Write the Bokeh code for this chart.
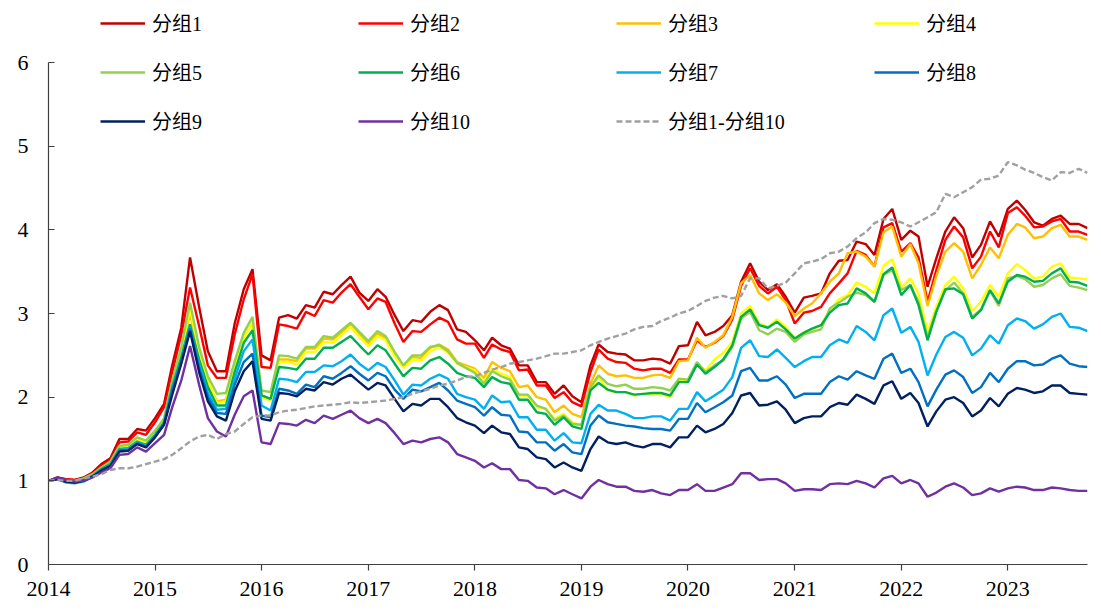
import pandas as pd
from bokeh.plotting import figure
from bokeh.models import Range1d, FixedTicker, DatetimeTickFormatter, Legend, LegendItem, ColumnDataSource
from bokeh.embed import file_html
from bokeh.resources import INLINE

months = pd.date_range("2014-01-01", periods=118, freq="MS")
year_ticks = [2014, 2015, 2016, 2017, 2018, 2019, 2020, 2021, 2022, 2023]
y_ticks = [0, 1, 2, 3, 4, 5, 6]

g1 = [1.0, 1.04, 1.02, 1.01, 1.04, 1.1, 1.2, 1.27, 1.5, 1.5, 1.62, 1.6, 1.75, 1.92, 2.38, 2.83, 3.67, 3.08, 2.55, 2.31, 2.31, 2.88, 3.29, 3.53,
      2.5, 2.44, 2.95, 2.98, 2.94, 3.1, 3.07, 3.26, 3.23, 3.34, 3.44, 3.25, 3.15, 3.29, 3.2, 2.98, 2.79, 2.92, 2.9, 3.02, 3.1, 3.04, 2.81, 2.78,
      2.68, 2.56, 2.71, 2.62, 2.58, 2.38, 2.38, 2.18, 2.18, 2.04, 2.14, 2.01, 1.94, 2.38, 2.63, 2.54, 2.52, 2.51, 2.44, 2.44, 2.46, 2.45, 2.4,
      2.61, 2.62, 2.9, 2.74, 2.78, 2.85, 2.98, 3.38, 3.6, 3.38, 3.28, 3.35, 3.2, 3.01, 3.19, 3.21, 3.24, 3.48, 3.63, 3.64, 3.86, 3.83, 3.7, 4.13, 4.25,
      3.88, 3.99, 3.92, 3.32, 3.66, 3.98, 4.15, 4.02, 3.67, 3.82, 4.1, 3.92, 4.25, 4.35, 4.24, 4.09, 4.05, 4.13, 4.17, 4.07, 4.07, 4.02]
g2 = [1.0, 1.03, 1.02, 1.01, 1.03, 1.09, 1.18, 1.25, 1.46, 1.47, 1.58, 1.55, 1.7, 1.88, 2.3, 2.75, 3.31, 2.85, 2.38, 2.23, 2.23, 2.75, 3.17, 3.47,
      2.36, 2.35, 2.87, 2.85, 2.82, 3.02, 2.97, 3.16, 3.13, 3.25, 3.35, 3.2, 3.05, 3.18, 3.14, 2.88, 2.66, 2.79, 2.78, 2.87, 2.95, 2.9, 2.69, 2.64,
      2.64, 2.47, 2.63, 2.57, 2.54, 2.32, 2.33, 2.14, 2.14, 1.99, 2.06, 1.94, 1.89, 2.3, 2.57, 2.46, 2.42, 2.41, 2.34, 2.32, 2.34, 2.34, 2.29,
      2.45, 2.45, 2.68, 2.6, 2.65, 2.73, 2.93, 3.33, 3.54, 3.33, 3.24, 3.32, 3.16, 2.88, 3.01, 3.03, 3.08, 3.24, 3.36, 3.48, 3.75, 3.7, 3.56, 4.03, 4.08,
      3.74, 3.84, 3.67, 3.14, 3.52, 3.88, 4.04, 3.91, 3.54, 3.68, 3.98, 3.79, 4.2, 4.27, 4.17, 4.03, 4.04, 4.1, 4.13, 3.98, 3.98, 3.94]
g3 = [1.0, 1.03, 1.0, 0.99, 1.02, 1.07, 1.15, 1.21, 1.4, 1.41, 1.49, 1.46, 1.58, 1.72, 2.15, 2.52, 3.0, 2.52, 2.18, 1.95, 1.97, 2.38, 2.72, 2.89,
      2.02, 1.98, 2.45, 2.45, 2.43, 2.58, 2.58, 2.7, 2.69, 2.77, 2.87, 2.75, 2.64, 2.76, 2.71, 2.52, 2.37, 2.48, 2.47, 2.59, 2.63, 2.57, 2.42, 2.38,
      2.34, 2.23, 2.42, 2.35, 2.31, 2.12, 2.14, 2.0, 1.97, 1.82, 1.9, 1.8, 1.76, 2.16, 2.38, 2.28, 2.25, 2.26, 2.23, 2.23, 2.26, 2.27, 2.23,
      2.43, 2.44, 2.71, 2.59, 2.66, 2.74, 2.96, 3.36, 3.46, 3.24, 3.16, 3.23, 3.13, 2.97, 3.06, 3.12, 3.24, 3.38, 3.48, 3.72, 3.74, 3.68, 3.56, 3.97, 4.04,
      3.68, 3.83, 3.6, 3.09, 3.45, 3.74, 3.84, 3.74, 3.42, 3.58, 3.79, 3.66, 3.94, 4.07, 4.03, 3.9, 3.92, 4.02, 4.06, 3.92, 3.92, 3.88]
g4 = [1.0, 1.03, 1.0, 0.99, 1.02, 1.07, 1.15, 1.21, 1.4, 1.41, 1.49, 1.46, 1.58, 1.72, 2.17, 2.55, 3.05, 2.55, 2.2, 1.93, 1.95, 2.35, 2.7, 2.9,
      2.0, 1.96, 2.42, 2.42, 2.39, 2.54, 2.54, 2.66, 2.65, 2.74, 2.84, 2.72, 2.61, 2.73, 2.68, 2.49, 2.35, 2.45, 2.44, 2.55, 2.6, 2.53, 2.4, 2.36,
      2.32, 2.18, 2.34, 2.28, 2.24, 2.02, 2.02, 1.88, 1.86, 1.74, 1.8, 1.7, 1.66, 2.08, 2.24, 2.08, 2.06, 2.06, 2.02, 2.04, 2.03, 2.04, 2.0,
      2.2, 2.2, 2.4, 2.32, 2.45, 2.53, 2.66, 3.0, 3.09, 2.88, 2.84, 2.93, 2.84, 2.7, 2.78, 2.81, 2.86, 3.04, 3.17, 3.22, 3.37, 3.32, 3.24, 3.57, 3.65,
      3.31, 3.42, 3.24, 2.78, 3.08, 3.34, 3.44, 3.3, 3.03, 3.14, 3.34, 3.2, 3.48, 3.59, 3.52, 3.42, 3.44, 3.56, 3.6, 3.43, 3.42, 3.41]
g5 = [1.0, 1.03, 1.0, 1.0, 1.03, 1.08, 1.16, 1.23, 1.42, 1.43, 1.52, 1.48, 1.6, 1.75, 2.2, 2.6, 3.13, 2.6, 2.25, 2.04, 2.05, 2.43, 2.77, 2.96,
      2.08, 2.06, 2.5, 2.49, 2.46, 2.6, 2.6, 2.73, 2.71, 2.8, 2.89, 2.78, 2.67, 2.79, 2.73, 2.54, 2.38, 2.5, 2.5, 2.6, 2.62, 2.55, 2.41, 2.35,
      2.29, 2.16, 2.31, 2.25, 2.21, 2.03, 2.03, 1.9, 1.86, 1.72, 1.78, 1.68, 1.67, 2.12, 2.26, 2.16, 2.13, 2.15, 2.1, 2.1, 2.12, 2.11, 2.08,
      2.22, 2.21, 2.42, 2.3, 2.38, 2.44, 2.6, 2.94, 3.02, 2.8, 2.75, 2.82, 2.78, 2.66, 2.75, 2.78, 2.81, 3.06, 3.13, 3.2, 3.25, 3.22, 3.14, 3.46, 3.52,
      3.28, 3.34, 3.14, 2.72, 3.03, 3.28, 3.37, 3.24, 2.96, 3.05, 3.27, 3.09, 3.42, 3.45, 3.41, 3.32, 3.34, 3.42, 3.47, 3.33, 3.31, 3.28]
g6 = [1.0, 1.03, 0.99, 0.98, 1.01, 1.06, 1.14, 1.2, 1.38, 1.39, 1.47, 1.43, 1.55, 1.7, 2.12, 2.48, 2.87, 2.45, 2.12, 1.9, 1.9, 2.3, 2.65, 2.8,
      2.02, 1.98, 2.36, 2.35, 2.33, 2.46, 2.46, 2.59, 2.59, 2.66, 2.73, 2.62, 2.51, 2.62, 2.56, 2.4, 2.25, 2.35, 2.34, 2.44, 2.48, 2.4, 2.29, 2.25,
      2.23, 2.12, 2.24, 2.18, 2.16, 1.97, 1.97, 1.82, 1.8, 1.67, 1.76, 1.65, 1.62, 2.08, 2.17, 2.09, 2.06, 2.06, 2.03, 2.04, 2.05, 2.05, 2.02,
      2.18, 2.18, 2.39, 2.28, 2.36, 2.45, 2.62, 2.96, 3.05, 2.86, 2.83, 2.9, 2.81, 2.7, 2.77, 2.82, 2.86, 3.01, 3.1, 3.12, 3.3, 3.24, 3.14, 3.47, 3.55,
      3.22, 3.34, 3.1, 2.68, 3.02, 3.29, 3.3, 3.23, 2.94, 3.04, 3.28, 3.12, 3.38, 3.46, 3.44, 3.38, 3.39, 3.48, 3.54, 3.38, 3.37, 3.33]
g7 = [1.0, 1.02, 0.98, 0.97, 0.99, 1.05, 1.13, 1.19, 1.37, 1.38, 1.46, 1.42, 1.54, 1.69, 2.1, 2.45, 2.84, 2.4, 2.05, 1.85, 1.86, 2.22, 2.55, 2.69,
      1.9, 1.84, 2.22, 2.21, 2.18, 2.3, 2.3, 2.38, 2.37, 2.43, 2.51, 2.4, 2.32, 2.41, 2.36, 2.2, 2.03, 2.15, 2.14, 2.22, 2.27, 2.22, 2.04, 2.0,
      1.97, 1.86, 2.02, 1.94, 1.95, 1.76, 1.76, 1.61, 1.61, 1.48, 1.57, 1.46, 1.45, 1.8, 1.91, 1.84, 1.84, 1.8, 1.75, 1.75, 1.77, 1.77, 1.72,
      1.86, 1.86, 2.06, 1.95, 2.02, 2.09, 2.24, 2.59, 2.68, 2.49, 2.48, 2.57, 2.47, 2.36, 2.43, 2.48, 2.48, 2.62, 2.69, 2.65, 2.85, 2.78, 2.68, 2.98, 3.06,
      2.77, 2.84, 2.66, 2.26, 2.51, 2.72, 2.78, 2.71, 2.5, 2.58, 2.74, 2.64, 2.86, 2.94, 2.91, 2.82, 2.87, 2.96, 3.0, 2.84, 2.83, 2.79]
g8 = [1.0, 1.02, 0.99, 0.98, 1.0, 1.05, 1.13, 1.18, 1.36, 1.37, 1.45, 1.41, 1.53, 1.68, 2.08, 2.43, 2.82, 2.35, 2.0, 1.81, 1.8, 2.15, 2.42, 2.52,
      1.78, 1.76, 2.1, 2.08, 2.04, 2.15, 2.12, 2.25, 2.22, 2.29, 2.37, 2.28, 2.2, 2.29, 2.25, 2.09, 1.98, 2.09, 2.07, 2.12, 2.17, 2.08, 1.96, 1.92,
      1.88, 1.78, 1.88, 1.79, 1.78, 1.59, 1.58, 1.46, 1.46, 1.36, 1.44, 1.34, 1.32, 1.66, 1.78, 1.7, 1.68, 1.66, 1.65, 1.63, 1.62, 1.62, 1.6,
      1.74, 1.74, 1.93, 1.82, 1.88, 1.94, 2.02, 2.31, 2.35, 2.2, 2.2, 2.25, 2.15, 1.99, 2.04, 2.04, 2.04, 2.18, 2.25, 2.21, 2.31, 2.26, 2.22, 2.46, 2.52,
      2.29, 2.34, 2.18, 1.89, 2.09, 2.27, 2.32, 2.24, 2.05, 2.12, 2.29, 2.18, 2.34, 2.43, 2.43, 2.38, 2.39, 2.46, 2.5, 2.4, 2.37, 2.36]
g9 = [1.0, 1.02, 0.99, 0.98, 1.0, 1.05, 1.12, 1.18, 1.35, 1.36, 1.44, 1.4, 1.52, 1.67, 2.03, 2.4, 2.79, 2.3, 1.95, 1.77, 1.72, 2.07, 2.31, 2.43,
      1.74, 1.72, 2.05, 2.04, 2.01, 2.1, 2.08, 2.18, 2.15, 2.22, 2.27, 2.18, 2.09, 2.17, 2.14, 1.98, 1.83, 1.92, 1.9, 1.98, 1.98, 1.88, 1.75, 1.7,
      1.66, 1.57, 1.66, 1.58, 1.56, 1.4, 1.38, 1.28, 1.26, 1.16, 1.22, 1.16, 1.12, 1.38, 1.53, 1.46, 1.44, 1.46, 1.42, 1.4, 1.44, 1.44, 1.4,
      1.52, 1.52, 1.66, 1.58, 1.62, 1.68, 1.81, 2.02, 2.05, 1.9, 1.91, 1.95, 1.85, 1.69, 1.75, 1.77, 1.77, 1.88, 1.93, 1.91, 2.03, 1.98, 1.92, 2.14, 2.19,
      1.98, 2.05, 1.93, 1.65, 1.83, 1.97, 2.0, 1.93, 1.77, 1.84, 1.99, 1.89, 2.04, 2.11, 2.09, 2.05, 2.07, 2.14, 2.14, 2.05, 2.04, 2.03]
g10 = [1.0, 1.04, 1.01, 0.99, 1.0, 1.04, 1.1, 1.15, 1.31, 1.32, 1.4, 1.35, 1.45, 1.55, 1.88, 2.2, 2.61, 2.15, 1.75, 1.59, 1.53, 1.79, 2.01, 2.08,
       1.46, 1.44, 1.69, 1.68, 1.66, 1.73, 1.69, 1.78, 1.74, 1.79, 1.84, 1.75, 1.69, 1.74, 1.69, 1.57, 1.44, 1.48, 1.46, 1.5, 1.52, 1.46, 1.32, 1.28,
       1.24, 1.16, 1.21, 1.14, 1.14, 1.01, 1.0, 0.92, 0.91, 0.84, 0.89, 0.84, 0.79, 0.93, 1.01, 0.96, 0.93, 0.93, 0.88, 0.87, 0.89, 0.85, 0.83,
       0.89, 0.89, 0.96, 0.88, 0.88, 0.92, 0.96, 1.09, 1.09, 1.01, 1.02, 1.02, 0.97, 0.88, 0.9, 0.9, 0.89, 0.96, 0.97, 0.96, 1.0, 0.97, 0.92, 1.03, 1.06,
       0.97, 1.01, 0.97, 0.81, 0.86, 0.93, 0.97, 0.92, 0.83, 0.85, 0.91, 0.87, 0.91, 0.93, 0.92, 0.89, 0.89, 0.92, 0.91, 0.89, 0.88, 0.88]
g1_minus_10 = [1.0, 1.01, 1.0, 1.0, 1.03, 1.05, 1.08, 1.13, 1.15, 1.15, 1.17, 1.2, 1.23, 1.26, 1.31, 1.39, 1.47, 1.53, 1.55, 1.5, 1.56, 1.59, 1.68, 1.76,
               1.78, 1.78, 1.82, 1.84, 1.85, 1.87, 1.89, 1.9, 1.91, 1.92, 1.94, 1.93, 1.94, 1.95, 1.96, 1.98, 2.0, 2.04, 2.07, 2.1, 2.14, 2.16, 2.2, 2.24,
               2.25, 2.29, 2.33, 2.36, 2.4, 2.42, 2.44, 2.46, 2.49, 2.52, 2.52, 2.54, 2.56, 2.62, 2.66, 2.7, 2.73, 2.76, 2.81, 2.84, 2.85, 2.91, 2.95,
               3.0, 3.03, 3.09, 3.15, 3.19, 3.21, 3.18, 3.21, 3.42, 3.42, 3.3, 3.33, 3.37, 3.48, 3.6, 3.62, 3.65, 3.72, 3.74, 3.8, 3.9, 3.97, 4.08, 4.13, 4.12,
               4.09, 4.04, 4.09, 4.15, 4.21, 4.43, 4.39, 4.45, 4.51, 4.6, 4.61, 4.65, 4.81, 4.77, 4.72, 4.68, 4.63, 4.59, 4.69, 4.68, 4.73, 4.68]

names = ["分组1", "分组2", "分组3", "分组4", "分组5", "分组6", "分组7", "分组8", "分组9", "分组10", "分组1-分组10"]
series = [g1, g2, g3, g4, g5, g6, g7, g8, g9, g10, g1_minus_10]
colors = ["#C00000", "#FF0000", "#FFC000", "#FFFF00", "#92D050", "#00B050",
          "#00B0F0", "#0070C0", "#002060", "#7030A0", "#A0A0A0"]

FONT = "'Liberation Serif', 'Noto Sans CJK SC'"

# frame spans the full height above the x axis so the legend (inside the frame) is not clipped;
# the y axis line itself is bounded to 0..6
Y_AXIS_MAX = 6
Y_VIEW_MAX = Y_AXIS_MAX * 564 / 502

p = figure(width=1101, height=612, x_axis_type="datetime", output_backend="svg",
           toolbar_location=None,
           x_range=Range1d(months[0], months[-1]), y_range=Range1d(0, Y_VIEW_MAX),
           min_border_left=48, min_border_right=14, min_border_top=0, min_border_bottom=48)
p.outline_line_color = None
p.xgrid.visible = False
p.ygrid.visible = False
p.background_fill_color = "white"
p.border_fill_color = "white"

items = []
for name, vals, col in zip(names, series, colors):
    src = ColumnDataSource(dict(x=months, y=vals))
    if name == "分组1-分组10":
        r = p.line("x", "y", source=src, line_color=col, line_width=2.4, line_dash="6 3")
    else:
        r = p.line("x", "y", source=src, line_color=col, line_width=2.4)
    items.append(LegendItem(label=name, renderers=[r]))

tick_ms = [pd.Timestamp(f"{y}-01-01").value // 10**6 for y in year_ticks]
p.xaxis.ticker = FixedTicker(ticks=tick_ms)
p.xaxis.formatter = DatetimeTickFormatter(years="%Y", months="%Y", days="%Y", hours="%Y",
                                          minutes="%Y", seconds="%Y", milliseconds="%Y")
p.yaxis.ticker = FixedTicker(ticks=y_ticks)
p.yaxis.bounds = (0, Y_AXIS_MAX)

for ax in (p.xaxis[0], p.yaxis[0]):
    ax.axis_line_color = "#404040"
    ax.axis_line_width = 1.2
    ax.major_tick_line_color = "#404040"
    ax.major_tick_line_width = 1.2
    ax.minor_tick_line_color = None
    ax.major_label_text_font = FONT
    ax.major_label_text_font_size = "22px"
    ax.major_label_text_color = "black"

p.xaxis.major_tick_in = 0
p.xaxis.major_tick_out = 6
p.xaxis.major_label_standoff = 11
p.yaxis.major_tick_in = 6
p.yaxis.major_tick_out = 0
p.yaxis.major_label_standoff = 20

legend = Legend(items=items, orientation="horizontal", ncols=4,
                location=(52, 429), glyph_width=45, glyph_height=20,
                label_height=20, label_width=186, label_standoff=7,
                spacing=20, padding=0, margin=0,
                border_line_color=None, background_fill_alpha=0,
                label_text_font=FONT, label_text_font_size="20px",
                label_text_color="black")
p.add_layout(legend)

open("out.html", "w").write(file_html(p, INLINE))
